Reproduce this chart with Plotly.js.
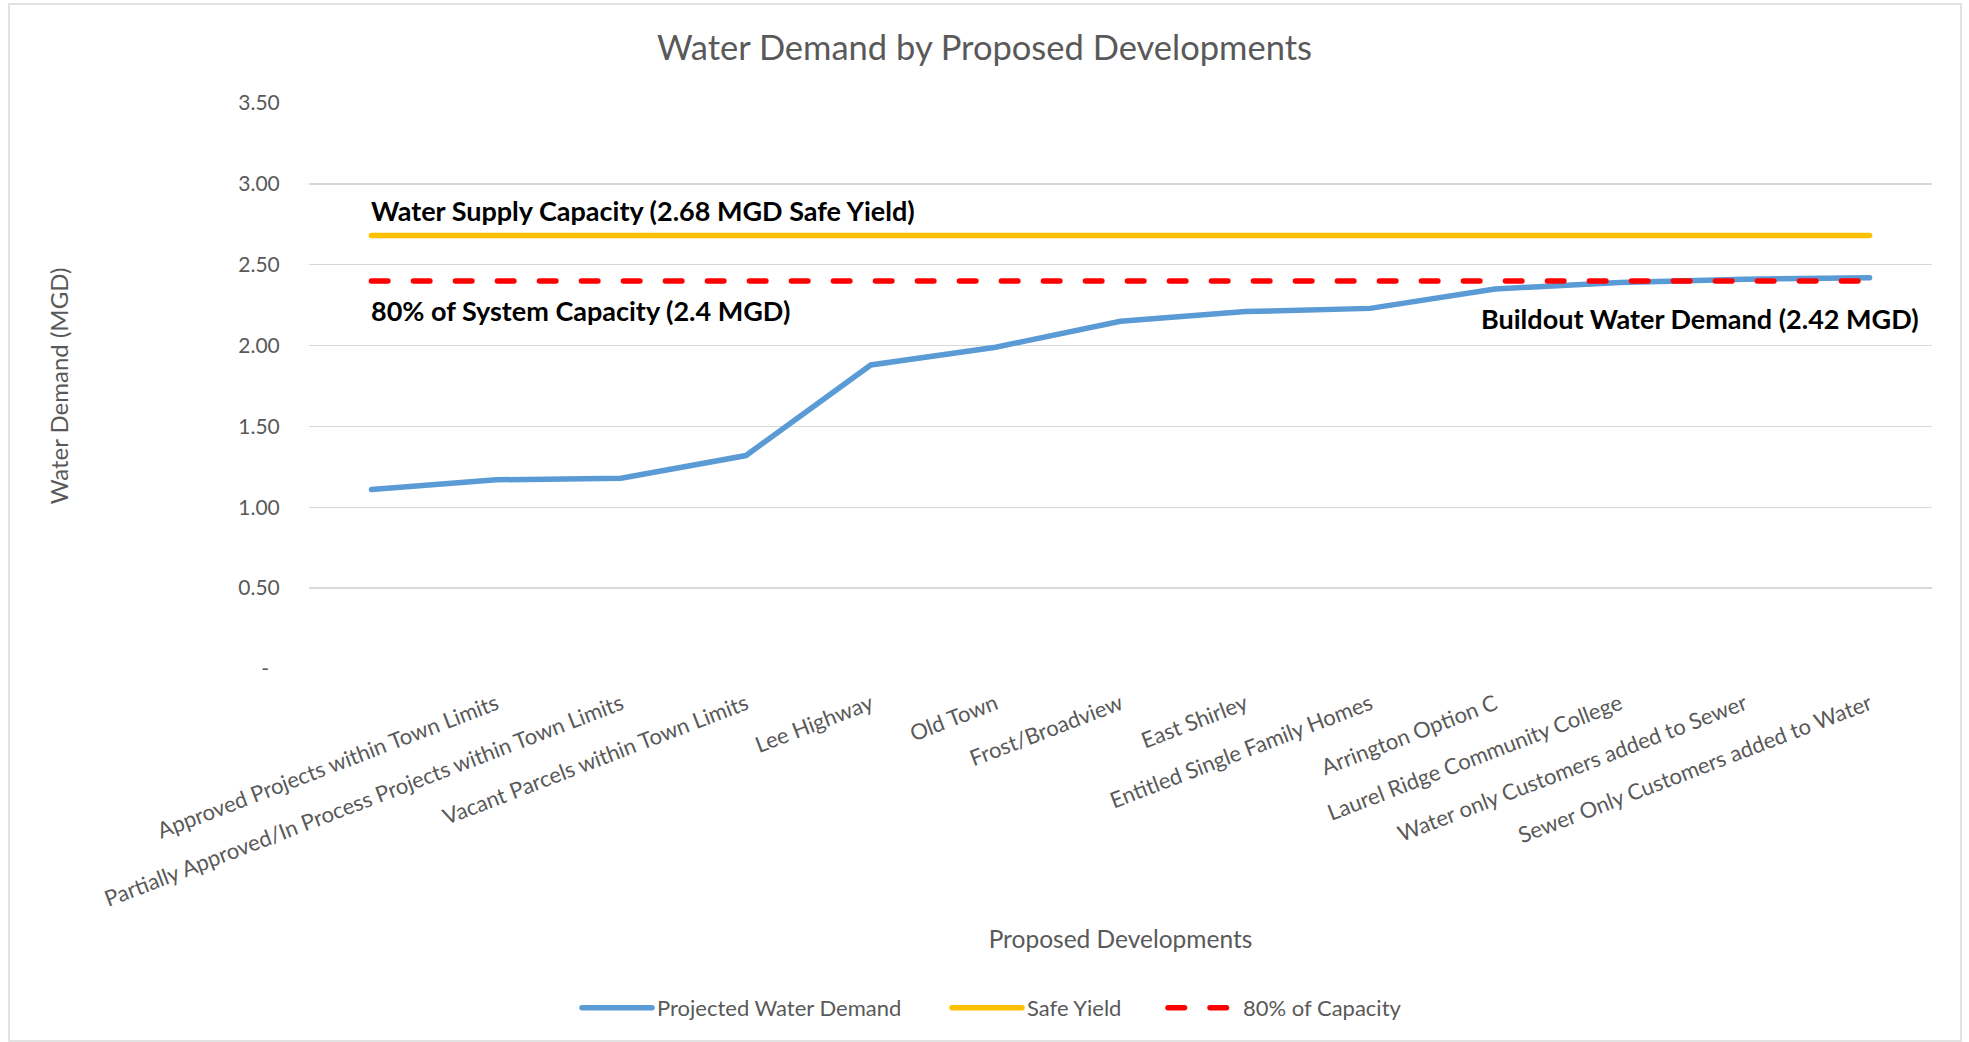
<!DOCTYPE html>
<html>
<head>
<meta charset="utf-8">
<script src="https://cdn.plot.ly/plotly-3.0.1.min.js"></script>
<style>
  html, body { margin: 0; padding: 0; background: #ffffff; }
  #chart { width: 1969px; height: 1042px; }
  #chart path.js-line { stroke-linecap: round; }
</style>
</head>
<body>
<div id="chart"></div>
<script>
// ---- Data ----
const categories = [
  " ",
  "Approved Projects within Town Limits",
  "Partially Approved/In Process Projects within Town Limits",
  "Vacant Parcels within Town Limits",
  "Lee Highway",
  "Old Town",
  "Frost/Broadview",
  "East Shirley",
  "Entitled Single Family Homes",
  "Arrington Option C",
  "Laurel Ridge Community College",
  "Water only Customers added to Sewer",
  "Sewer Only Customers added to Water"
];
const projectedDemand = [1.11, 1.17, 1.18, 1.32, 1.88, 1.99, 2.15, 2.21, 2.23, 2.35, 2.39, 2.41, 2.42];
const safeYield = [2.68, 2.68, 2.68, 2.68, 2.68, 2.68, 2.68, 2.68, 2.68, 2.68, 2.68, 2.68, 2.68];
const capacity80 = [2.40, 2.40, 2.40, 2.40, 2.40, 2.40, 2.40, 2.40, 2.40, 2.40, 2.40, 2.40, 2.40];
const seriesNames = ["Projected Water Demand", "Safe Yield", "80% of Capacity"];
const yTickValues = [0, 0.5, 1.0, 1.5, 2.0, 2.5, 3.0, 3.5];
const yTickLabels = ["-\u00a0\u00a0", "0.50", "1.00", "1.50", "2.00", "2.50", "3.00", "3.50"];
const annotationTexts = [
  "Water Supply Capacity (2.68 MGD Safe Yield)",
  "80% of System Capacity (2.4 MGD)",
  "Buildout Water Demand (2.42 MGD)"
];
const chartTitle = "Water Demand by Proposed Developments";
const xTitle = "Proposed Developments";
const yTitle = "Water Demand (MGD)";

// ---- Styling ----
const FONT = "Lato, 'Open Sans', sans-serif";
const GREY = "#595959";

const traces = [
  {
    x: categories, y: projectedDemand, name: seriesNames[0],
    type: "scatter", mode: "lines", legend: "legend",
    line: { color: "#5B9BD5", width: 5.5 }
  },
  {
    x: categories, y: safeYield, name: seriesNames[1],
    type: "scatter", mode: "lines", legend: "legend2",
    line: { color: "#FFC000", width: 5.5 }
  },
  {
    x: categories, y: capacity80, name: seriesNames[2],
    type: "scatter", mode: "lines", legend: "legend3",
    line: { color: "#FF0000", width: 5.5, dash: "16.5px,25.5px" }
  }
];

const L = 309, R = 37, T = 103, B = 373;
const W = 1969, H = 1042;
const pw = W - L - R, ph = H - T - B;
const px = v => (v - L) / pw;
const py = v => (H - B - v) / ph;

function legendAt(xPix) {
  return {
    orientation: "h",
    x: px(xPix), xanchor: "left",
    y: py(1008), yanchor: "middle",
    font: { family: FONT, size: 22, color: GREY },
    itemwidth: 70,
    bgcolor: "rgba(0,0,0,0)"
  };
}

const layout = {
  width: W, height: H,
  margin: { l: L, r: R, t: T, b: B, pad: 0 },
  paper_bgcolor: "#ffffff",
  plot_bgcolor: "#ffffff",
  font: { family: FONT, color: GREY, size: 22 },
  title: {
    text: chartTitle,
    font: { family: FONT, size: 34.5, color: GREY },
    x: 0.5, xref: "container", xanchor: "center",
    y: 1 - 48 / H, yref: "container", yanchor: "middle"
  },
  xaxis: {
    type: "category",
    categoryorder: "array",
    categoryarray: categories,
    range: [-0.5, categories.length - 0.5],
    showgrid: false, zeroline: false, showline: false,
    ticks: "outside", ticklen: 13, tickcolor: "rgba(0,0,0,0)",
    tickangle: -21,
    tickfont: { family: FONT, size: 22, color: GREY },
    title: { text: xTitle, font: { family: FONT, size: 24.5, color: GREY }, standoff: 20 },
    fixedrange: true
  },
  yaxis: {
    range: [0, 3.5],
    tickvals: yTickValues, ticktext: yTickLabels,
    showgrid: true, gridcolor: "#D9D9D9", gridwidth: 1.5,
    zeroline: false, showline: false,
    ticks: "outside", ticklen: 24, tickcolor: "rgba(0,0,0,0)",
    tickfont: { family: FONT, size: 21, color: GREY },
    title: { text: yTitle, font: { family: FONT, size: 24, color: GREY }, standoff: 162 },
    fixedrange: true
  },
  showlegend: true,
  legend: legendAt(577),
  legend2: legendAt(947),
  legend3: legendAt(1163),
  annotations: [
    {
      text: "<b>" + annotationTexts[0] + "</b>",
      xref: "paper", x: px(369), xanchor: "left",
      yref: "y", y: 2.835, yanchor: "middle",
      showarrow: false, font: { family: FONT, size: 27, color: "#000000" }
    },
    {
      text: "<b>" + annotationTexts[1] + "</b>",
      xref: "paper", x: px(369), xanchor: "left",
      yref: "y", y: 2.215, yanchor: "middle",
      showarrow: false, font: { family: FONT, size: 27, color: "#000000" }
    },
    {
      text: "<b>" + annotationTexts[2] + "</b>",
      xref: "paper", x: px(1921), xanchor: "right",
      yref: "y", y: 2.165, yanchor: "middle",
      showarrow: false, font: { family: FONT, size: 27, color: "#000000" }
    }
  ],
  shapes: [
    {
      type: "rect", xref: "paper", yref: "paper",
      x0: px(9), x1: px(1961), y0: py(1041), y1: py(4),
      line: { color: "#D9D9D9", width: 1.5 },
      fillcolor: "rgba(0,0,0,0)", layer: "below"
    }
  ]
};

Plotly.newPlot("chart", traces, layout, { displayModeBar: false, staticPlot: true });
</script>
</body>
</html>
